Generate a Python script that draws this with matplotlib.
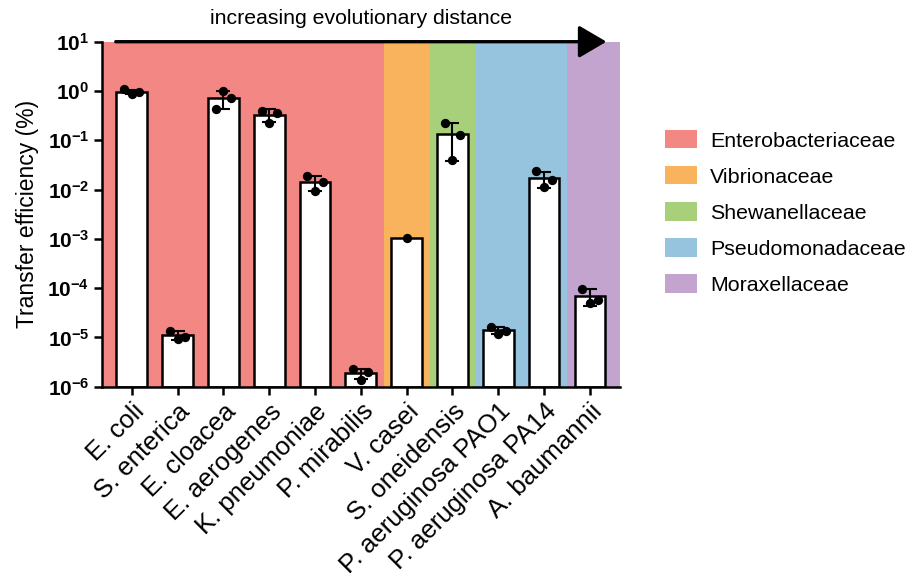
import numpy as np
import matplotlib
matplotlib.use("Agg")
import matplotlib.pyplot as plt
from matplotlib.patches import Patch

plt.rcParams["font.family"] = ["Liberation Sans", "DejaVu Sans"]

# ---------- data ----------
species = ["E. coli", "S. enterica", "E. cloacea", "E. aerogenes", "K. pneumoniae",
           "P. mirabilis", "V. casei", "S. oneidensis", "P. aeruginosa PAO1",
           "P. aeruginosa PA14", "A. baumannii"]
families = ["Enterobacteriaceae", "Vibrionaceae", "Shewanellaceae",
            "Pseudomonadaceae", "Moraxellaceae"]
family_colors = ["#F28784", "#F9B35D", "#A8D07A", "#96C4DE", "#C2A4CE"]
family_of = [0, 0, 0, 0, 0, 0, 1, 2, 3, 3, 4]

# replicate transfer efficiencies (%), left / middle / right dot
replicates = [
    [1.08, 0.865, 0.935],
    [1.35e-5, 0.93e-5, 1.01e-5],
    [0.44, 0.98, 0.71],
    [0.40, 0.22, 0.36],
    [0.0186, 0.0093, 0.0143],
    [2.3e-6, 1.38e-6, 1.95e-6],
    [1.05e-3],
    [0.226, 0.040, 0.127],
    [1.66e-5, 1.18e-5, 1.38e-5],
    [0.0234, 0.0112, 0.0159],
    [9.8e-5, 5.0e-5, 5.8e-5],
]

# ---------- figure ----------
fig = plt.figure(figsize=(9.14, 5.84), dpi=100)
ax = fig.add_axes([0.1116, 0.3378, 0.5664, 0.5908])

x = np.arange(len(species))
xlo, xhi = -0.65, len(species) - 0.35
means = np.array([np.mean(r) for r in replicates])
sds = np.array([np.std(r, ddof=1) if len(r) > 1 else 0.0 for r in replicates])

# family background bands (outer bands run to the axis edges)
nfam = len(family_colors)
for fi, col in enumerate(family_colors):
    idx = [i for i, f in enumerate(family_of) if f == fi]
    left = xlo if fi == 0 else min(idx) - 0.5
    right = xhi if fi == nfam - 1 else max(idx) + 0.5
    ax.axvspan(left, right, color=col, lw=0, zorder=0)

ax.bar(x, means - 1e-6, bottom=1e-6, width=0.67, color="white",
       edgecolor="black", linewidth=1.8, zorder=2)
has_err = sds > 0
ax.errorbar(x[has_err], means[has_err], yerr=sds[has_err], fmt="none",
            ecolor="black", elinewidth=1.5, capsize=5, capthick=1.5, zorder=3)
for i, r in enumerate(replicates):
    offs = [0.0] if len(r) == 1 else np.linspace(-0.166, 0.166, len(r))
    ax.scatter(i + np.asarray(offs), r, s=45, color="black", zorder=4, lw=0)

ax.set_yscale("log")
ax.set_ylim(1e-6, 10)
ax.set_xlim(xlo, xhi)
ax.set_yticks([10.0 ** k for k in range(-6, 2)])
ax.yaxis.set_minor_locator(matplotlib.ticker.NullLocator())
ax.set_xticks(x)
ax.set_xticklabels(species, rotation=45, ha="right", rotation_mode="anchor",
                   fontsize=18.5)
for lab in ax.get_yticklabels():
    lab.set_fontweight("bold")
    lab.set_fontsize(15)
ax.tick_params(axis="both", width=1.8, length=6, direction="out", pad=3)
ax.set_ylabel("Transfer efficiency (%)", fontsize=16.5, labelpad=6)
for s in ["top", "right"]:
    ax.spines[s].set_visible(False)
for s in ["left", "bottom"]:
    ax.spines[s].set_linewidth(1.8)

# arrow on top
ax.annotate("", xy=(10.36, 1.0), xytext=(-0.35, 1.0),
            xycoords=("data", "axes fraction"), textcoords=("data", "axes fraction"),
            arrowprops=dict(arrowstyle="-|>,head_length=0.85,head_width=0.5",
                            mutation_scale=20, color="black", lw=2.4,
                            shrinkA=0, shrinkB=0),
            annotation_clip=False, zorder=5)
fig.text(361 / 914, 1 - 18 / 584, "increasing evolutionary distance",
         ha="center", va="center", fontsize=15.3)

handles = [Patch(facecolor=c, edgecolor="none") for c in family_colors]
fig.legend(handles, families, loc="upper left", bbox_to_anchor=(0.7205, 0.788),
           frameon=False, fontsize=15.4, handlelength=1.5, handleheight=0.93,
           labelspacing=0.73, handletextpad=0.6, borderaxespad=0, borderpad=0.3)

fig.savefig("out.png", dpi=100)
